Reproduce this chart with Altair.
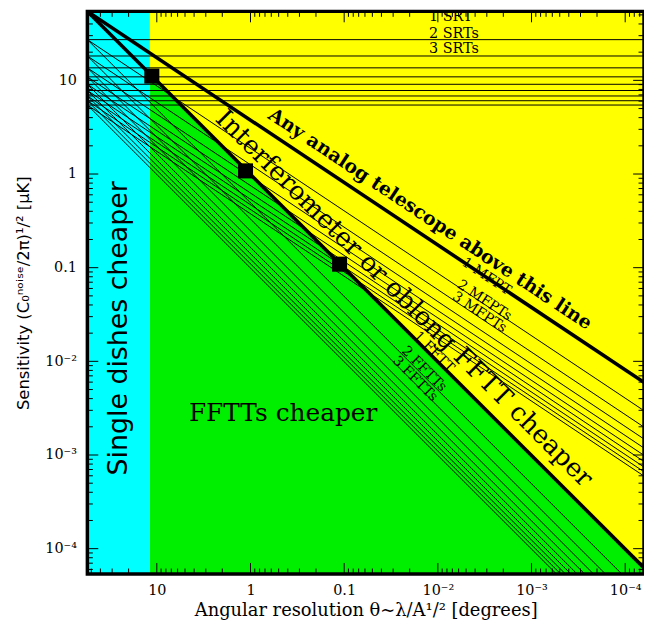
import altair as alt
import pandas as pd

# ---------------- axis extents ----------------
X_LEFT, X_RIGHT = 55.1, 6.3e-5         # angular resolution [deg], axis runs right-to-left
Y_BOTTOM, Y_TOP = 5.37e-5, 54.5        # sensitivity [micro-K]
THETA_END = 5.85e-5                    # where the cost lines are drawn to (clipped at the frame)

# ---------------- region boundary ----------------
theta_split = 11.86                    # single dishes | FFTT / yellow boundary

# ---------------- cost lines (N = 1..10) ----------------
n_units = [1, 2, 3, 4, 5, 6, 7, 8, 9, 10]
level_left = [54.5, 27.2, 18.2, 13.6, 10.9, 9.08, 7.79, 6.81, 6.06, 5.45]     # all families at left edge
srt_right = [54.5, 27.2, 18.2, 13.6, 10.9, 9.08, 7.79, 6.81, 6.06, 5.45]
mfpt_right = [5.67e-3, 2.83e-3, 1.89e-3, 1.41e-3, 1.13e-3, 9.44e-4, 8.10e-4, 7.08e-4, 6.30e-4, 5.67e-4]
fftt_right = [5.79e-5, 2.89e-5, 1.93e-5, 1.44e-5, 1.16e-5, 9.64e-6, 8.27e-6, 7.23e-6, 6.44e-6, 5.79e-6]

# green region (below the thick FFTT line, right of the split)
green_theta = [11.86, 5.85e-5]
green_top = [11.73, 5.79e-5]

# black squares on the thick FFTT line
square_theta = [11.3, 1.13, 0.112]
square_sens = [11.1, 1.08, 0.109]

# ---------------- ticks ----------------
major_ticks = [10, 1, 0.1, 0.01, 0.001, 0.0001]
minor_mult = [2, 3, 4, 5, 6, 7, 8, 9]
x_minor = [m * 10.0 ** e for e in range(-5, 2) for m in minor_mult if X_RIGHT < m * 10.0 ** e < X_LEFT]
y_minor = [m * 10.0 ** e for e in range(-5, 2) for m in minor_mult if Y_BOTTOM < m * 10.0 ** e < Y_TOP]

# ---------------- annotation anchors (data coordinates) ----------------
srt_lab_text = ["1 SRT", "2 SRTs", "3 SRTs"]
srt_lab_theta = [0.01245, 0.01245, 0.01245]
srt_lab_sens = [47.1, 31.0, 21.5]

mfpt_lab_text = ["1 MFPT", "2 MFPTs", "3 MFPTs"]
mfpt_lab_theta = [3.03e-3, 3.18e-3, 3.6e-3]
mfpt_lab_sens = [0.0803, 0.0447, 0.0333]

fftt_lab_text = ["1 FFTT", "2 FFTTs", "3 FFTTs"]
fftt_lab_theta = [0.01104, 0.01406, 0.01754]
fftt_lab_sens = [0.01256, 8.28e-3, 6.49e-3]

W, H = 561, 567

xscale = alt.Scale(type="log", domain=[X_RIGHT, X_LEFT], reverse=True, nice=False, zero=False)
yscale = alt.Scale(type="log", domain=[Y_BOTTOM, Y_TOP], nice=False, zero=False)

label_expr = ("datum.value >= 5 ? '10' : datum.value >= 0.5 ? '1' : datum.value >= 0.05 ? '0.1' : "
              "datum.value >= 0.005 ? '10⁻²' : datum.value >= 0.0005 ? '10⁻³' : '10⁻⁴'")

xaxis = alt.Axis(values=major_ticks, labelExpr=label_expr, ticks=False, domain=False, grid=False,
                 labelPadding=10, labelOverlap=False, labelFlush=False,
                 title="Angular resolution θ~λ/A¹/² [degrees]", titlePadding=4)
yaxis = alt.Axis(values=major_ticks, labelExpr=label_expr, ticks=False, domain=False, grid=False,
                 labelPadding=11, labelOverlap=False, labelFlush=False,
                 title="Sensitivity  (C₀ⁿᵒⁱˢᵉ/2π)¹/² [μK]", titlePadding=13)

X = lambda f: alt.X(f, scale=xscale, axis=xaxis)
Y = lambda f: alt.Y(f, scale=yscale, axis=yaxis)

# ---------------- backgrounds ----------------
yellow = alt.Chart(pd.DataFrame({"x": [theta_split], "x2": [X_RIGHT], "y": [Y_BOTTOM], "y2": [Y_TOP]})).mark_rect(
    color="#ffff00").encode(x=X("x:Q"), x2="x2:Q", y=Y("y:Q"), y2="y2:Q")

green = alt.Chart(pd.DataFrame({"x": green_theta, "y": green_top, "y2": [Y_BOTTOM] * len(green_theta)})).mark_area(
    color="#00ee00", opacity=1, clip=True).encode(x=X("x:Q"), y=Y("y:Q"), y2="y2:Q")

cyan = alt.Chart(pd.DataFrame({"x": [X_LEFT], "x2": [theta_split], "y": [Y_BOTTOM], "y2": [Y_TOP]})).mark_rect(
    color="#00ffff").encode(x=X("x:Q"), x2="x2:Q", y=Y("y:Q"), y2="y2:Q")

# ---------------- lines ----------------
rows = []
for fam, right in (("SRT", srt_right), ("MFPT", mfpt_right), ("FFTT", fftt_right)):
    for n, left, r in zip(n_units, level_left, right):
        thick = (n == 1 and fam != "SRT")
        rows.append({"fam": fam, "n": n, "x": X_LEFT, "y": left, "x2": THETA_END, "y2": r,
                     "w": 3.6 if thick else 1.0})
lines_df = pd.DataFrame(rows)
lines = alt.Chart(lines_df).mark_rule(color="black", clip=True).encode(
    x=X("x:Q"), y=Y("y:Q"), x2="x2:Q", y2="y2:Q", strokeWidth=alt.StrokeWidth("w:Q", scale=None))

squares = alt.Chart(pd.DataFrame({"x": square_theta, "y": square_sens})).mark_square(
    size=230, color="black", opacity=1, filled=True).encode(x=X("x:Q"), y=Y("y:Q"))


def labels(texts, th, se, angle, size, font="DejaVu Serif", weight="normal", align="center"):
    df = pd.DataFrame({"t": texts, "x": th, "y": se})
    return alt.Chart(df).mark_text(font=font, fontSize=size, angle=angle, fontWeight=weight,
                                   align=align, baseline="middle", color="black").encode(
        x=X("x:Q"), y=Y("y:Q"), text="t:N")


srt_labels = labels(srt_lab_text, srt_lab_theta, srt_lab_sens, 0, 14.5, align="left")
mfpt_labels = labels(mfpt_lab_text, mfpt_lab_theta, mfpt_lab_sens, 33.6, 14)
fftt_labels = labels(fftt_lab_text, fftt_lab_theta, fftt_lab_sens, 45, 14)

big1 = labels(["Any analog telescope above this line"], [0.0121], [0.331], 33.6, 19, weight="bold")
big2 = labels(["Interferometer or oblong FFTT cheaper"], [0.0229], [0.0469], 45, 26)
big3 = labels(["FFTTs cheaper"], [0.448], [2.83e-3], 0, 25)
big4 = labels(["Single dishes cheaper"], [25.6], [0.0225], 270, 27, font="DejaVu Sans")


# ---------------- inward ticks on all four sides ----------------
def xticks(vals, length):
    df = pd.DataFrame({"v": vals})
    b = alt.Chart(df).mark_rule(color="black", strokeWidth=1).encode(
        x=X("v:Q"), y=alt.value(H), y2=alt.value(H - length))
    t = alt.Chart(df).mark_rule(color="black", strokeWidth=1).encode(
        x=X("v:Q"), y=alt.value(0), y2=alt.value(length))
    return [b, t]


def yticks(vals, length):
    df = pd.DataFrame({"v": vals})
    l = alt.Chart(df).mark_rule(color="black", strokeWidth=1).encode(
        y=Y("v:Q"), x=alt.value(0), x2=alt.value(length))
    r = alt.Chart(df).mark_rule(color="black", strokeWidth=1).encode(
        y=Y("v:Q"), x=alt.value(W), x2=alt.value(W - length))
    return [l, r]


tick_layers = xticks(major_ticks, 11) + xticks(x_minor, 5.5) + yticks(major_ticks, 11) + yticks(y_minor, 5.5)

frame = alt.Chart(pd.DataFrame({"x": [X_LEFT], "x2": [X_RIGHT], "y": [Y_BOTTOM], "y2": [Y_TOP]})).mark_rect(
    filled=False, stroke="black", strokeWidth=3.5).encode(x=X("x:Q"), x2="x2:Q", y=Y("y:Q"), y2="y2:Q")

chart = alt.layer(
    yellow, green, cyan, srt_labels, mfpt_labels, fftt_labels, lines, squares,
    big1, big2, big3, big4, *tick_layers, frame
).properties(
    width=W, height=H,
    padding={"left": 80, "top": 1, "right": 0, "bottom": 45},
    autosize=alt.AutoSizeParams(type="none"),
    background="white",
).configure_view(stroke=None).configure_axisX(
    labelFont="DejaVu Serif", labelFontSize=14.5, labelColor="black",
    titleFont="DejaVu Serif", titleFontSize=18, titleFontWeight="normal", titleColor="black",
).configure_axisY(
    labelFont="DejaVu Serif", labelFontSize=14.5, labelColor="black",
    titleFont="DejaVu Sans", titleFontSize=16.5, titleFontWeight="normal", titleColor="black",
)

chart.save("out.html", embed_options={"renderer": "svg", "actions": False})
